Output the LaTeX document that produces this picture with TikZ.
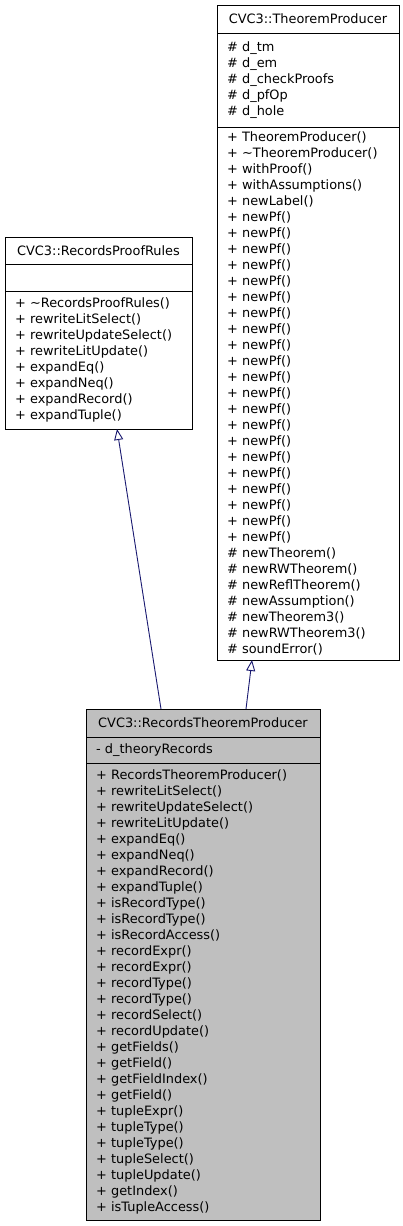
\documentclass[tikz,border=0pt]{standalone}
\usepackage{fontspec}
\setmainfont{DejaVu Sans}
\usepackage{xcolor}
\usetikzlibrary{arrows.meta}
\definecolor{vnavy}{HTML}{191970}
\definecolor{vgray}{HTML}{BFBFBF}

\begin{document}
\begin{tikzpicture}[x=1pt, y=-1pt,
		part/.style={draw=black, line width=1pt, inner xsep=10pt, inner ysep=0pt, outer sep=0pt, font=\fontsize{12.9}{16}\selectfont},
		title/.style={part, align=center, minimum height=28pt},
		list/.style={part, align=left},
		inherit/.style={color=vnavy, line width=0.9pt, -{Triangle[open, length=11pt, width=9pt, fill=white]}}]
	\useasboundingbox (0,0) rectangle (402,1226);
	% CVC3::TheoremProducer
	\node[title, text width=162pt, anchor=north west] (tp) at (217,5) {CVC3::TheoremProducer};
	\node[list, text width=162pt, minimum height=94pt, anchor=north] (tpattr) at (tp.south) {\# d\_tm\\ \# d\_em\\ \# d\_checkProofs\\ \# d\_pfOp\\ \# d\_hole};
	\node[list, text width=162pt, minimum height=533pt, anchor=north] (tpmeth) at (tpattr.south) {+ TheoremProducer()\\
		+ \textasciitilde TheoremProducer()\\
		+ withProof()\\
		+ withAssumptions()\\
		+ newLabel()\\
		+ newPf()\\
		+ newPf()\\
		+ newPf()\\
		+ newPf()\\
		+ newPf()\\
		+ newPf()\\
		+ newPf()\\
		+ newPf()\\
		+ newPf()\\
		+ newPf()\\
		+ newPf()\\
		+ newPf()\\
		+ newPf()\\
		+ newPf()\\
		+ newPf()\\
		+ newPf()\\
		+ newPf()\\
		+ newPf()\\
		+ newPf()\\
		+ newPf()\\
		+ newPf()\\
		\# newTheorem()\\
		\# newRWTheorem()\\
		\# newReflTheorem()\\
		\# newAssumption()\\
		\# newTheorem3()\\
		\# newRWTheorem3()\\
		\# soundError()};
	% CVC3::RecordsProofRules
	\node[title, text width=167pt, minimum height=27pt, anchor=north west] (rpr) at (5,237) {CVC3::RecordsProofRules};
	\node[list, text width=167pt, minimum height=27pt, anchor=north] (rprattr) at (rpr.south) {};
	\node[list, text width=167pt, minimum height=138pt, anchor=north] (rprmeth) at (rprattr.south) {+ \textasciitilde RecordsProofRules()\\
		+ rewriteLitSelect()\\
		+ rewriteUpdateSelect()\\
		+ rewriteLitUpdate()\\
		+ expandEq()\\
		+ expandNeq()\\
		+ expandRecord()\\
		+ expandTuple()};
	% CVC3::RecordsTheoremProducer
	\node[title, fill=vgray, text width=214pt, anchor=north west] (rtp) at (86,709) {CVC3::RecordsTheoremProducer};
	\node[list, fill=vgray, text width=214pt, minimum height=26pt, anchor=north] (rtpattr) at (rtp.south) {- d\_theoryRecords};
	\node[list, fill=vgray, text width=214pt, minimum height=457pt, anchor=north] (rtpmeth) at (rtpattr.south) {+ RecordsTheoremProducer()\\
		+ rewriteLitSelect()\\
		+ rewriteUpdateSelect()\\
		+ rewriteLitUpdate()\\
		+ expandEq()\\
		+ expandNeq()\\
		+ expandRecord()\\
		+ expandTuple()\\
		+ isRecordType()\\
		+ isRecordType()\\
		+ isRecordAccess()\\
		+ recordExpr()\\
		+ recordExpr()\\
		+ recordType()\\
		+ recordType()\\
		+ recordSelect()\\
		+ recordUpdate()\\
		+ getFields()\\
		+ getField()\\
		+ getFieldIndex()\\
		+ getField()\\
		+ tupleExpr()\\
		+ tupleType()\\
		+ tupleType()\\
		+ tupleSelect()\\
		+ tupleUpdate()\\
		+ getIndex()\\
		+ isTupleAccess()};
	% inheritance
	\draw[inherit] ([xshift=75pt]rtp.north west) -- ([xshift=112pt]rprmeth.south west);
	\draw[inherit] ([xshift=160pt]rtp.north west) -- ([xshift=35pt]tpmeth.south west);
\end{tikzpicture}
\end{document}
